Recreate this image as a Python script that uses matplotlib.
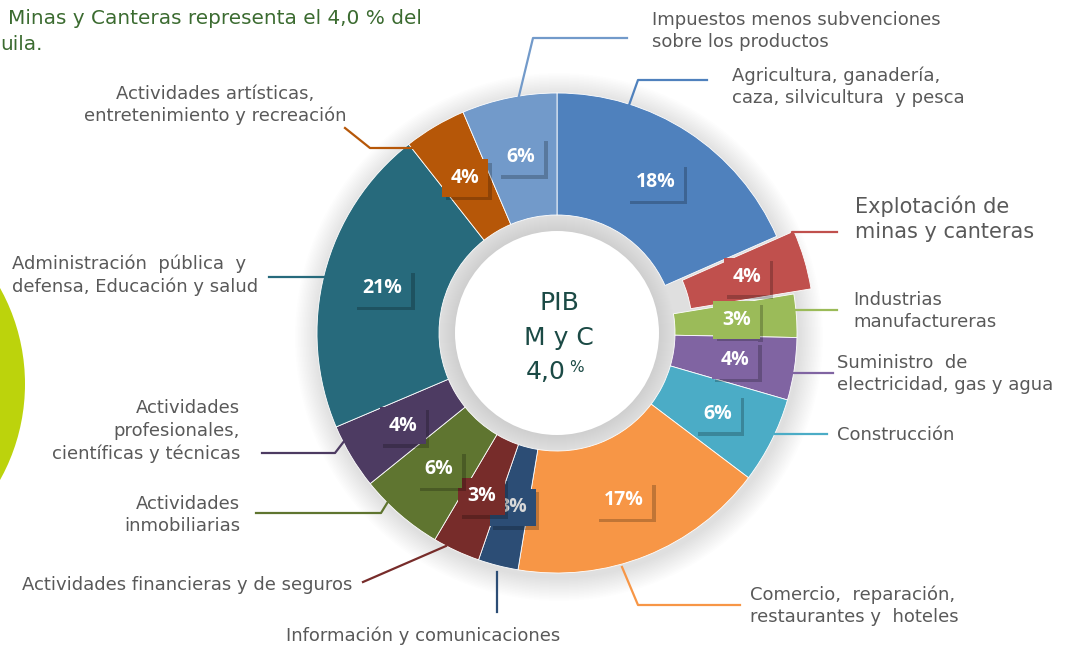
import numpy as np
import matplotlib
matplotlib.use("Agg")
import matplotlib.pyplot as plt
import matplotlib.patheffects as pe
from matplotlib.patches import Circle, Wedge

# datos: participación en el PIB (%)
sectores = [
    "Agricultura, ganadería,\ncaza, silvicultura  y pesca",
    "Explotación de\nminas y canteras",
    "Industrias\nmanufactureras",
    "Suministro  de\nelectricidad, gas y agua",
    "Construcción",
    "Comercio,  reparación,\nrestaurantes y  hoteles",
    "Información y comunicaciones",
    "Actividades financieras y de seguros",
    "Actividades\ninmobiliarias",
    "Actividades\nprofesionales,\ncientíficas y técnicas",
    "Administración  pública  y\ndefensa, Educación y salud",
    "Actividades artísticas,\nentretenimiento y recreación",
    "Impuestos menos subvenciones\nsobre los productos",
]
valores = [18.4, 4.0, 2.9, 4.2, 5.8, 17.3, 2.7, 3.2, 5.7, 4.4, 20.8, 4.2, 6.4]
colores = ["#4F81BD", "#C0504D", "#9BBB59", "#8064A2", "#4BACC6", "#F79646",
           "#2C4D75", "#772C2A", "#5F7530", "#4D3B62", "#276A7C", "#B65708",
           "#729ACA"]
separado = [0, 18, 0, 0, 0, 0, 0, 0, 0, 0, 0, 0, 0]

W, H = 1071, 647
def P(x, y):
    # coordenadas en pixeles (origen arriba a la izquierda)
    return x, H - y

FS = 13.0
# posiciones de etiquetas: (x, y, ha, tamaño, linea guia)
layout = [
    (732, 87, "left", FS, [(628, 108), (638, 80), (707, 80)]),
    (855, 219, "left", 15, [(792, 238), (792, 232), (837, 232)]),
    (853, 311, "left", FS, [(795, 310), (837, 310)]),
    (837, 374, "left", FS, [(793, 373), (833, 373)]),
    (837, 435, "left", FS, [(775, 434), (827, 434)]),
    (750, 606, "left", FS, [(622, 567), (638, 605), (740, 605)]),
    (423, 636, "center", FS, [(497, 572), (497, 612)]),
    (352, 585, "right", FS, [(446, 546), (363, 582)]),
    (240, 515, "right", FS, [(389, 500), (381, 513), (256, 513)]),
    (240, 431, "right", FS, [(345, 440), (335, 453), (262, 453)]),
    (12, 275, "left", FS, [(269, 277), (327, 277)]),
    (215, 105, "center", FS, [(412, 148), (370, 148), (345, 128)]),
    (652, 31, "left", FS, [(518, 100), (533, 38), (627, 38)]),
]

plt.rcParams['font.family'] = ['DejaVu Sans']
fig = plt.figure(figsize=(W / 100, H / 100), dpi=100)
ax = fig.add_axes([0, 0, 1, 1])

cx, cy = P(557, 333)
R, ancho = 240, 122

# sombra suave alrededor del anillo
for k in range(16, 0, -1):
    ax.add_patch(Circle((cx + 2, cy - 4), R + k * 1.5, color="#000000",
                        alpha=0.006, lw=0, zorder=0))

wedges, _ = ax.pie(valores, colors=colores, startangle=90, counterclock=False,
                   radius=R, center=(cx, cy), explode=separado,
                   wedgeprops=dict(width=ancho, edgecolor="white", linewidth=0.6))

# sombra interior del hueco
for k in range(16):
    ax.add_patch(Circle((cx, cy), R - ancho - k * 1.0, color="#000000",
                        alpha=0.0035, lw=0, zorder=3))
ax.add_patch(Circle((cx, cy), R - ancho - 16, color="white", lw=0, zorder=3))

# porcentajes
sombra = [pe.SimplePatchShadow(offset=(2.5, -2.5), shadow_rgbFace="black", alpha=0.22),
          pe.Normal()]
for w, v, c in zip(wedges, valores, colores):
    ang = np.deg2rad((w.theta1 + w.theta2) / 2)
    x0, y0 = w.center
    x = x0 + 0.75 * R * np.cos(ang)
    y = y0 + 0.75 * R * np.sin(ang)
    tc = "#D9D9D9" if c == "#2C4D75" else "white"
    ax.text(x, y, f"{round(v)}%", ha="center", va="center", fontsize=14,
            color=tc, family="Open Sans", fontweight="bold", zorder=5,
            bbox=dict(boxstyle="square,pad=0.45", fc=c, ec="none",
                      path_effects=sombra))

# etiquetas y lineas guia
for s, c, (tx, ty, ha, fs, guia) in zip(sectores, colores, layout):
    pts = np.array([P(*p) for p in guia])
    ax.plot(pts[:, 0], pts[:, 1], color=c, lw=1.6, zorder=2)
    ax.text(*P(tx, ty), s, ha=ha, va="center", fontsize=fs, color="#595959",
            linespacing=1.3, multialignment=ha)

# texto central
verde_osc = "#1B4A45"
ax.text(*P(559, 303), "PIB", ha="center", va="center", fontsize=18, color=verde_osc, zorder=6)
ax.text(*P(559, 338), "M y C", ha="center", va="center", fontsize=18, color=verde_osc, zorder=6)
ax.text(*P(566, 372), "4,0", ha="right", va="center", fontsize=18, color=verde_osc, zorder=6)
ax.text(*P(569, 368), "%", ha="left", va="center", fontsize=11, color=verde_osc, zorder=6)

# texto recortado arriba a la izquierda
ax.text(*P(8, 18), "Minas y Canteras representa el 4,0 % del", ha="left", va="center",
        fontsize=14.4, color="#3B6B30")
ax.text(*P(0, 44), "uila.", ha="left", va="center", fontsize=14.4, color="#3B6B30")

# arco verde a la izquierda
ax.add_patch(Wedge(P(-172, 384), 197, -90, 90, width=32, color="#BCD30C", lw=0))

ax.set_xlim(0, W)
ax.set_ylim(0, H)
ax.set_aspect("equal")
ax.axis("off")
fig.savefig("out.png", dpi=100, facecolor="white")
